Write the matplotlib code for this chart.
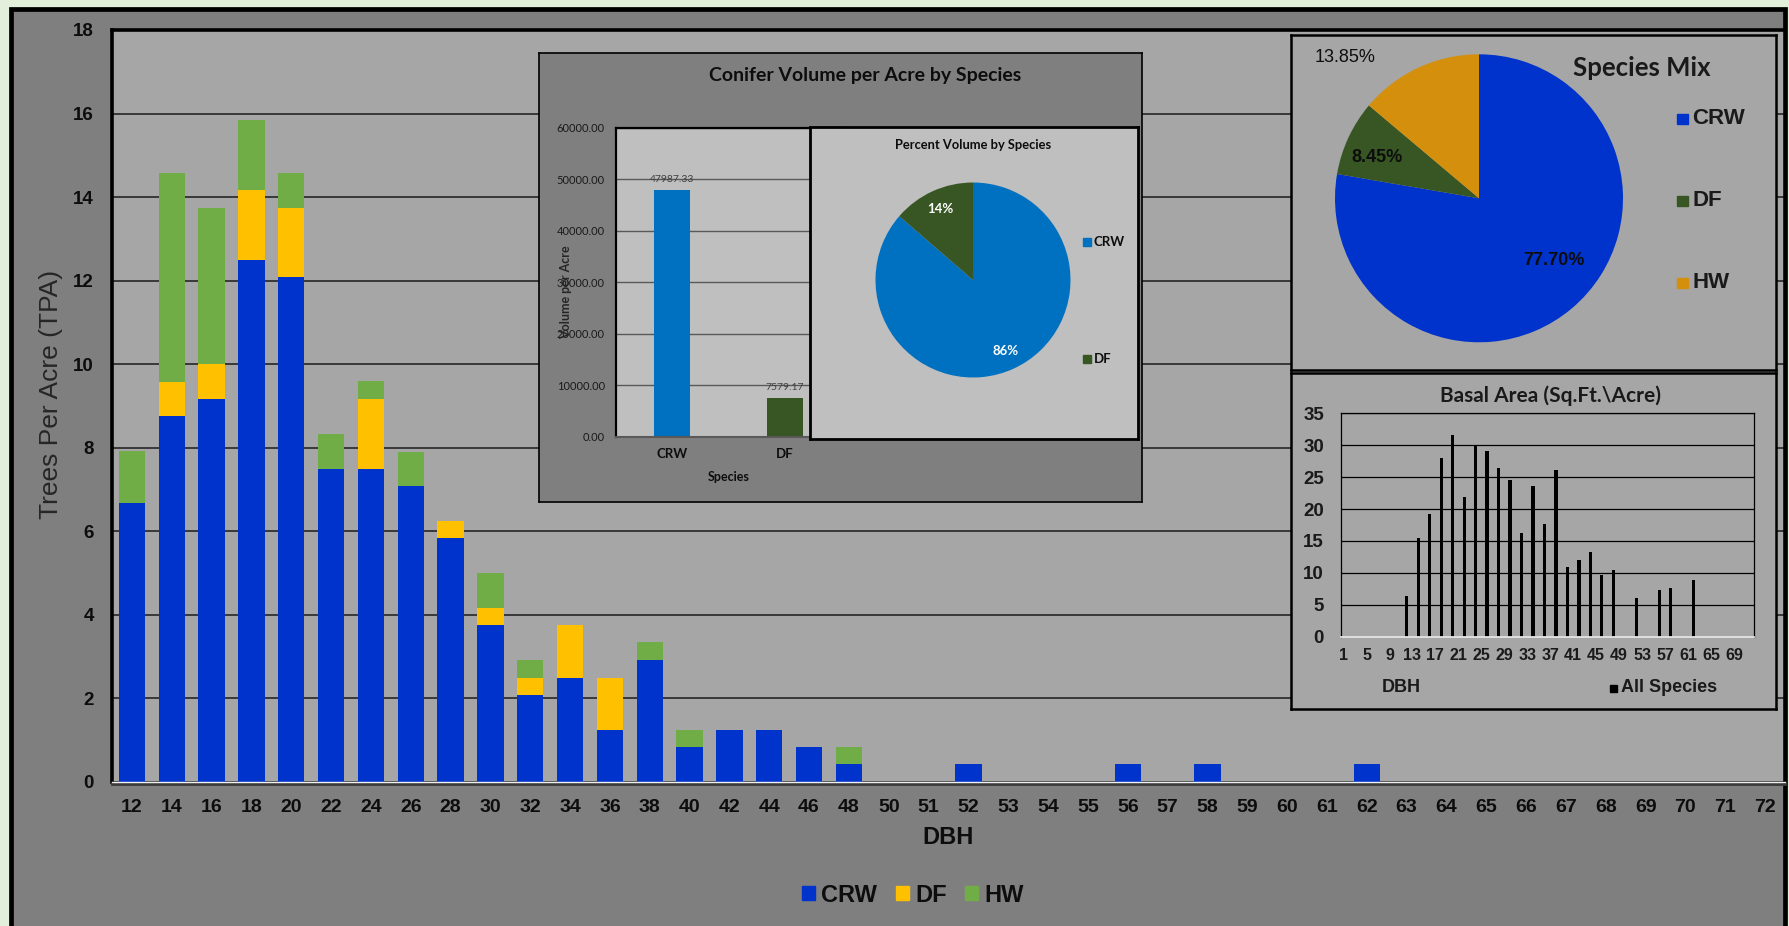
import numpy as np
import matplotlib.pyplot as plt
from matplotlib.patches import Patch, Rectangle

plt.rcParams['font.family'] = ['Liberation Sans', 'DejaVu Sans']
plt.rcParams['font.weight'] = 'bold'

W, H = 1789, 926

# Trees per acre by diameter class (stacked by species)
dbh = list(range(12, 50, 2)) + list(range(50, 73))
crw = [6.67, 8.75, 9.17, 12.50, 12.08, 7.50, 7.50, 7.08, 5.83, 3.75,
       2.08, 2.50, 1.25, 2.92, 0.83, 1.25, 1.25, 0.83, 0.42,
       0, 0, 0.42, 0, 0, 0, 0.42, 0, 0.42, 0, 0, 0, 0.42,
       0, 0, 0, 0, 0, 0, 0, 0, 0, 0]
df = [0, 0.83, 0.83, 1.67, 1.67, 0, 1.67, 0, 0.42, 0.42,
      0.42, 1.25, 1.25, 0, 0, 0, 0, 0, 0] + [0] * 23
hw = [1.25, 5.00, 3.75, 1.67, 0.83, 0.83, 0.42, 0.83, 0, 0.83,
      0.42, 0, 0, 0.42, 0.42, 0, 0, 0, 0.42] + [0] * 23
species = ['CRW', 'DF', 'HW']
species_colors = ['#0033cc', '#ffc000', '#70ad47']

# Conifer volume per acre
vol_species = ['CRW', 'DF']
vol_per_acre = [47987.33, 7579.17]
vol_colors = ['#0070c0', '#375623']

# Species mix (percent of trees)
mix_species = ['CRW', 'DF', 'HW']
mix_pct = [77.70, 8.45, 13.85]
mix_colors = ['#0033cc', '#375623', '#d4900c']

# Basal area per acre by DBH
ba_dbh = [12, 14, 16, 18, 20, 22, 24, 26, 28, 30, 32, 34, 36, 38, 40,
          42, 44, 46, 48, 52, 56, 58, 62]
ba_vals = [6.3, 15.5, 19.2, 28.0, 31.6, 21.9, 29.9, 29.1, 26.5, 24.5,
           16.2, 23.6, 17.6, 26.1, 10.9, 12.0, 13.2, 9.6, 10.5, 6.1,
           7.3, 7.7, 8.9]


def px_rect(l, t, r, b):
    return [l / W, 1 - b / H, (r - l) / W, (b - t) / H]


def ftext(x, y, s, **kw):
    kw.setdefault('ha', 'center')
    kw.setdefault('va', 'center')
    kw.setdefault('zorder', 10)
    return fig.text(x / W, 1 - y / H, s, **kw)


def fsquare(x, y, size, color):
    fig.add_artist(Rectangle((x / W, 1 - (y + size / 2) / H), size / W, size / H,
                             transform=fig.transFigure, color=color, zorder=10))


def box_axes(rect, fc, lw, z):
    a = fig.add_axes(px_rect(*rect), facecolor=fc, zorder=z)
    a.set_xticks([])
    a.set_yticks([])
    for s in a.spines.values():
        s.set_color('black')
        s.set_linewidth(lw)
    return a


fig = plt.figure(figsize=(W / 100, H / 100), dpi=100, facecolor='#e2efda')
fig.add_artist(Rectangle((10.8 / W, 1 - 940 / H), (1785 - 10.8) / W, (940 - 8.5) / H,
                         transform=fig.transFigure, facecolor='#7f7f7f',
                         edgecolor='black', lw=3.4, zorder=-1))

# ---- main stacked bar chart ----
ax = fig.add_axes(px_rect(112, 30, 1785, 782), facecolor='#a6a6a6', zorder=1)
for side in ['left', 'top', 'right']:
    ax.spines[side].set_linewidth(2.6)
    ax.spines[side].set_color('black')
ax.spines['bottom'].set_color('#3a3a3a')
ax.spines['bottom'].set_linewidth(2)
ax.spines['bottom'].set_position(('outward', 1.5))

x = np.arange(len(dbh))
crw_a, df_a, hw_a = np.array(crw), np.array(df), np.array(hw)
ax.bar(x, crw_a, 0.66, color=species_colors[0], zorder=2)
ax.bar(x, df_a, 0.66, bottom=crw_a, color=species_colors[1], zorder=2)
ax.bar(x, hw_a, 0.66, bottom=crw_a + df_a, color=species_colors[2], zorder=2)
ax.set_xlim(-0.5, len(dbh) - 0.5)
ax.set_ylim(0, 18)
ax.set_xticks(x, [str(d) for d in dbh], fontweight='bold')
ax.set_yticks(range(0, 19, 2), [str(v) for v in range(0, 19, 2)], fontweight='bold')
ax.yaxis.grid(True, color='#262626', lw=1.2)
ax.set_axisbelow(True)
ax.tick_params(axis='y', length=0, pad=13, labelsize=13.5, labelcolor='#0d0d0d')
ax.tick_params(axis='x', length=0, pad=11, labelsize=14, labelcolor='#0d0d0d')
ax.axhline(0, color='#f0f0f0', lw=1.0, zorder=3, clip_on=False)

ftext(51, 394, 'Trees Per Acre (TPA)', rotation=90, fontsize=19, fontweight='normal',
      color='#262626')
ftext(948, 838, 'DBH', fontsize=17, fontweight='bold', color='#0d0d0d')
fig.legend(handles=[Patch(color=c, label=s) for s, c in zip(species, species_colors)],
           loc='center', bbox_to_anchor=(913 / W, 1 - 895 / H), ncol=3, frameon=False,
           prop={'weight': 'bold', 'size': 17}, labelcolor='#0d0d0d',
           handlelength=0.55, handleheight=0.55, handletextpad=0.25,
           columnspacing=0.8, borderpad=0)

# ---- conifer volume inset ----
inset_font = ['Lato', 'DejaVu Sans']
box_axes((539, 53, 1142, 502), '#7f7f7f', 1.2, 2)
ax_vol = fig.add_axes(px_rect(616, 128, 841, 437), facecolor='#bfbfbf', zorder=3)
bars = ax_vol.bar(range(len(vol_species)), vol_per_acre, width=0.32,
                  color=vol_colors, zorder=2)
ax_vol.bar_label(bars, labels=[f'{v:.2f}' for v in vol_per_acre], padding=4,
                 fontsize=7.5, fontweight='normal', color='#404040', family=inset_font)
ax_vol.set_xlim(-0.5, 1.5)
ax_vol.set_ylim(0, 60000)
vol_ticks = list(range(0, 60001, 10000))
ax_vol.set_yticks(vol_ticks, [f'{v:.2f}' for v in vol_ticks], family=inset_font,
                  fontweight='normal')
ax_vol.set_xticks(range(len(vol_species)), vol_species, family=inset_font,
                  fontweight='bold')
ax_vol.yaxis.grid(True, color='#595959', lw=1.0)
ax_vol.set_axisbelow(True)
ax_vol.tick_params(axis='y', length=0, pad=8, labelsize=8, labelcolor='#1a1a1a')
ax_vol.tick_params(axis='x', length=0, pad=8, labelsize=9.5, labelcolor='#0d0d0d')
for side in ['left', 'top']:
    ax_vol.spines[side].set_linewidth(1.6)
ax_vol.spines['bottom'].set_color('#595959')
ax_vol.spines['bottom'].set_linewidth(1.5)
ax_vol.spines['right'].set_visible(False)

ftext(865, 75, 'Conifer Volume per Acre by Species', fontsize=14, fontweight='bold',
      family=inset_font, color='#0d0d0d')
ftext(566, 292, 'Volume per Acre', rotation=90, fontsize=9, fontweight='bold',
      family=inset_font, color='#262626')
ftext(729, 477, 'Species', fontsize=9, fontweight='bold', family=inset_font, color='#0d0d0d')

# percent volume pie inside the inset
box_axes((810, 127, 1138, 439), '#bfbfbf', 2.0, 4)
ax_vpie = fig.add_axes(px_rect(875.5, 182.5, 1070.5, 377.5), zorder=5)
ax_vpie.patch.set_visible(False)
ax_vpie.pie(vol_per_acre, colors=vol_colors, startangle=90, counterclock=False,
            autopct='%1.0f%%', pctdistance=0.8,
            textprops=dict(color='white', fontweight='bold', fontsize=9.5, family=inset_font))
ax_vpie.set_xlim(-1, 1)
ax_vpie.set_ylim(-1, 1)
ftext(973, 145, 'Percent Volume by Species', fontsize=9.3, fontweight='bold',
      family=inset_font, color='#0d0d0d')
for i, (s, c) in enumerate(zip(vol_species, vol_colors)):
    yy = 242 + i * 117
    fsquare(1083, yy, 8, c)
    ftext(1094, yy, s, ha='left', fontsize=9.5, fontweight='bold', family=inset_font,
          color='#0d0d0d')

# ---- species mix pie ----
box_axes((1291, 35, 1776, 370), '#a6a6a6', 1.8, 2)
ax_mix = fig.add_axes(px_rect(1335, 54.3, 1623, 342.3), zorder=3)
ax_mix.patch.set_visible(False)
ax_mix.pie(mix_pct, colors=mix_colors, startangle=90, counterclock=False)
ax_mix.set_xlim(-1, 1)
ax_mix.set_ylim(-1, 1)
mix_label_pos = [(0.52, -0.43), (-0.71, 0.28), (-0.93, 0.98)]
mix_label_weight = ['bold', 'bold', 'normal']
for v, (lx, ly), wt in zip(mix_pct, mix_label_pos, mix_label_weight):
    ax_mix.text(lx, ly, f'{v:.2f}%', ha='center', va='center', fontsize=13,
                fontweight=wt, color='#0d0d0d')
ftext(1642, 68, 'Species Mix', fontsize=18.5, fontweight='bold', family=inset_font,
      color='#1a1a1a')
for i, (s, c) in enumerate(zip(mix_species, mix_colors)):
    yy = 119 + i * 82
    fsquare(1677, yy, 10.5, c)
    ftext(1692, yy, s, ha='left', fontsize=16, fontweight='bold', color='#1a1a1a')

# ---- basal area chart ----
box_axes((1291, 373, 1776, 709), '#a6a6a6', 1.8, 2)
ax_ba = fig.add_axes(px_rect(1340.7, 413.3, 1754, 636.7), facecolor='#a6a6a6', zorder=3)
ax_ba.bar(ba_dbh, ba_vals, width=0.55, color='black', zorder=2)
ax_ba.set_xlim(0.5, 72.5)
ax_ba.set_ylim(0, 35)
ba_xt = list(range(1, 70, 4))
ba_yt = list(range(0, 36, 5))
ax_ba.set_xticks(ba_xt, [str(v) for v in ba_xt], fontweight='bold')
ax_ba.set_yticks(ba_yt, [str(v) for v in ba_yt], fontweight='bold')
ax_ba.yaxis.grid(True, color='black', lw=0.9)
ax_ba.set_axisbelow(True)
ax_ba.tick_params(axis='y', length=0, pad=12, labelsize=13.5, labelcolor='#1a1a1a')
ax_ba.tick_params(axis='x', length=0, pad=8, labelsize=11.5, labelcolor='#1a1a1a')
for side in ['left', 'top', 'right']:
    ax_ba.spines[side].set_linewidth(0.9)
ax_ba.spines['bottom'].set_color('#e6e6e6')
ax_ba.spines['bottom'].set_linewidth(1.3)

ftext(1550, 396, 'Basal Area (Sq.Ft.\\Acre)', fontsize=15, fontweight='bold',
      family=inset_font, color='#1a1a1a')
ftext(1401, 688, 'DBH', fontsize=13, fontweight='bold', color='#1a1a1a')
fsquare(1610, 688, 7, 'black')
ftext(1621, 688, 'All Species', ha='left', fontsize=13, fontweight='bold', color='#1a1a1a')

fig.savefig('out.png', dpi=100, facecolor=fig.get_facecolor())
